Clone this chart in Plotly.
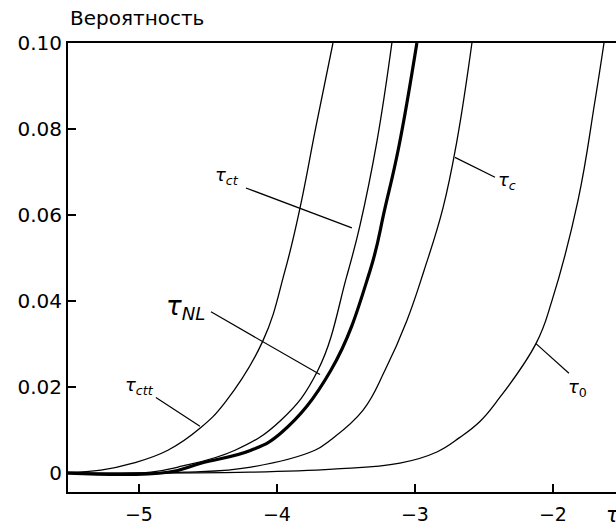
import plotly.graph_objects as go

# ---- data ----
tau_ctt_x = [-5.514, -5.275, -5.043, -4.790, -4.558, -4.377, -4.101, -3.942, -3.833, -3.717, -3.594]
tau_ctt_y = [0.0002, 0.0007, 0.0023, 0.0053, 0.0104, 0.0164, 0.0308, 0.0470, 0.0616, 0.0806, 0.1000]

tau_ct_x = [-5.514, -4.913, -4.717, -4.304, -3.971, -3.703, -3.493, -3.399, -3.275, -3.167]
tau_ct_y = [0.0000, 0.0002, 0.0014, 0.0053, 0.0123, 0.0239, 0.0459, 0.0575, 0.0772, 0.1000]

tau_nl_x = [-5.514, -4.790, -4.551, -4.188, -3.971, -3.609, -3.326, -3.217, -3.116, -2.986]
tau_nl_y = [0.0000, 0.0002, 0.0023, 0.0053, 0.0093, 0.0239, 0.0470, 0.0616, 0.0760, 0.1000]

tau_c_x = [-5.514, -4.667, -4.188, -3.725, -3.616, -3.377, -3.217, -3.058, -2.935, -2.797, -2.696, -2.587]
tau_c_y = [0.0000, 0.0002, 0.0014, 0.0053, 0.0076, 0.0146, 0.0239, 0.0355, 0.0470, 0.0616, 0.0772, 0.1000]

tau0_x = [-5.514, -4.196, -3.594, -3.109, -2.841, -2.674, -2.529, -2.413, -2.123, -2.007, -1.819, -1.696, -1.630]
tau0_y = [0.0000, 0.0002, 0.0009, 0.0023, 0.0049, 0.0083, 0.0120, 0.0164, 0.0301, 0.0401, 0.0633, 0.0864, 0.1000]

x_ticks = [-5, -4, -3, -2]
y_ticks = [0, 0.02, 0.04, 0.06, 0.08, 0.10]
y_ticktext = ["0", "0.02", "0.04", "0.06", "0.08", "0.10"]

# labels: text, label position, font size, leader start, leader end
labels = [
    ("<i>τ</i><sub><i>ct</i></sub>", -4.362, 0.0690, 18, (-4.225, 0.0663), (-3.457, 0.0570)),
    ("<i>τ</i><sub><i>NL</i></sub>", -4.659, 0.0385, 26, (-4.478, 0.0375), (-3.688, 0.0229)),
    ("<i>τ</i><sub><i>ctt</i></sub>", -4.993, 0.0202, 18, (-4.877, 0.0176), (-4.558, 0.0109)),
    ("<i>τ</i><sub><i>c</i></sub>", -2.333, 0.0679, 18, (-2.710, 0.0734), (-2.420, 0.0688)),
    ("<i>τ</i><sub>0</sub>", -1.819, 0.0197, 18, (-2.123, 0.0301), (-1.884, 0.0232)),
]

FONT = "DejaVu Sans"
TICK_SIZE = 20

fig = go.Figure()
curves = [
    (tau_ctt_x, tau_ctt_y, 1.3),
    (tau_ct_x, tau_ct_y, 1.3),
    (tau_nl_x, tau_nl_y, 3.2),
    (tau_c_x, tau_c_y, 1.3),
    (tau0_x, tau0_y, 1.3),
]
for xs, ys, w in curves:
    fig.add_trace(go.Scatter(x=xs, y=ys, mode="lines",
                             line=dict(color="black", width=w, shape="spline", smoothing=1.2),
                             showlegend=False, hoverinfo="skip"))

shapes = []
annotations = []
for text, lx, ly, fs, p0, p1 in labels:
    annotations.append(dict(x=lx, y=ly, xref="x", yref="y", text=text, showarrow=False,
                            font=dict(family=FONT, size=fs, color="black"),
                            xanchor="center", yanchor="middle"))
    shapes.append(dict(type="line", xref="x", yref="y", x0=p0[0], y0=p0[1], x1=p1[0], y1=p1[1],
                       line=dict(color="black", width=1.2)))

annotations.append(dict(x=0, y=1 + 25 / 449, xref="paper", yref="paper", text="Вероятность",
                        showarrow=False, xanchor="left", yanchor="middle",
                        font=dict(family=FONT, size=20, color="black")))
annotations.append(dict(x=(604 - 68) / 548, y=-23 / 449, xref="paper", yref="paper",
                        text="<i>τ</i>", showarrow=False, xanchor="left", yanchor="middle",
                        font=dict(family=FONT, size=21, color="black")))

fig.update_layout(
    width=616, height=527,
    margin=dict(l=68, r=0, t=43, b=35, autoexpand=False),
    paper_bgcolor="white", plot_bgcolor="white",
    font=dict(family=FONT, size=TICK_SIZE, color="black"),
    shapes=shapes, annotations=annotations,
    xaxis=dict(range=[-5.514, -1.543], tickvals=x_ticks, ticks="inside", ticklen=8, tickwidth=1.5,
               tickcolor="black", showline=True, linecolor="black", linewidth=2, mirror=True,
               showgrid=False, zeroline=False, automargin=False, ticklabelstandoff=4,
               tickfont=dict(family=FONT, size=19)),
    yaxis=dict(range=[-0.0044, 0.1], tickvals=y_ticks, ticktext=y_ticktext, ticks="inside", ticklen=8,
               tickwidth=1.5, tickcolor="black", showline=True, linecolor="black", linewidth=2,
               showgrid=False, zeroline=False, automargin=False,
               tickfont=dict(family=FONT, size=TICK_SIZE)),
)

fig.write_html("out.html", config={"displayModeBar": False},
               post_script="document.body.style.margin='0px';document.body.style.padding='0px';")
